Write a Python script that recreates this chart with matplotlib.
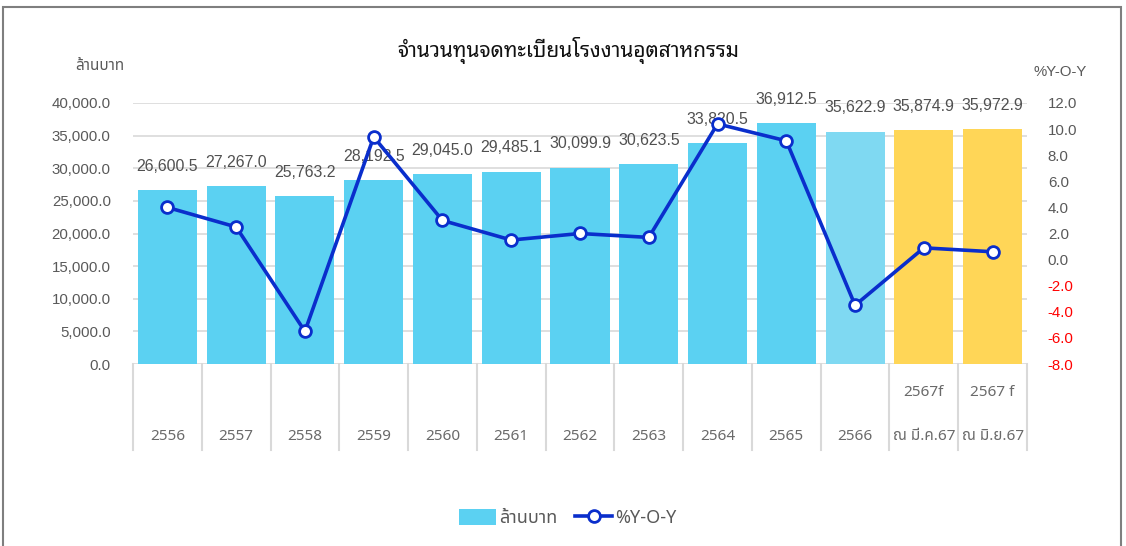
import numpy as np
import matplotlib
matplotlib.use('Agg')
import matplotlib.pyplot as plt
from matplotlib.ticker import FuncFormatter
from matplotlib.lines import Line2D
from matplotlib.patches import Patch, Rectangle

# data
years_top = ['', '', '', '', '', '', '', '', '', '', '', '2567f', '2567 f']
years_bottom = ['2556', '2557', '2558', '2559', '2560', '2561', '2562', '2563',
                '2564', '2565', '2566', 'ณ มี.ค.67', 'ณ มิ.ย.67']
capital = [26600.5, 27267.0, 25763.2, 28192.5, 29045.0, 29485.1, 30099.9,
           30623.5, 33820.5, 36912.5, 35622.9, 35874.9, 35972.9]
yoy = [4.0, 2.5, -5.5, 9.4, 3.0, 1.5, 2.0, 1.7, 10.4, 9.1, -3.5, 0.9, 0.6]

bar_colors = ['#5BD1F2'] * 10 + ['#7FD9F2', '#FFD657', '#FFD657']
line_color = '#0A2ECC'
grey = '#595959'
num_font = ['Liberation Sans', 'DejaVu Sans']
thai_font = ['Noto Sans Thai', 'Noto Sans', 'DejaVu Sans']
thai_loop = ['Noto Sans Thai Looped', 'Noto Sans', 'DejaVu Sans']

W, H = 1126, 546
fig = plt.figure(figsize=(W / 100, H / 100), dpi=100)
fig.patch.set_facecolor('white')

# outer frame
fig.add_artist(Rectangle((3 / W, -0.05), (1121 - 3) / W, 1 - 7 / H + 0.05,
                         transform=fig.transFigure, fill=False,
                         edgecolor='#7F7F7F', lw=1.5))

ax = fig.add_axes([133 / W, 1 - 364 / H, (1027 - 133) / W, (364 - 103) / H])
x = np.arange(len(capital))
ax.bar(x, capital, width=0.86, color=bar_colors, zorder=2)
ax.set_xlim(-0.5, len(capital) - 0.5)
ax.set_ylim(0, 40000)
ax.set_yticks(np.arange(0, 40001, 5000))
ax.yaxis.set_major_formatter(FuncFormatter(lambda v, p: f'{v:,.1f}'))
ax.grid(axis='y', color='#D9D9D9', lw=1.2, zorder=0)
ax.set_axisbelow(True)
ax.set_xticks([])
ax.tick_params(axis='y', length=0, pad=16, labelsize=10.8, labelcolor=grey)
for lab in ax.get_yticklabels():
    lab.set_family(num_font)
for s in ax.spines.values():
    s.set_visible(False)

for xi, v in zip(x, capital):
    ax.annotate(f'{v:,.1f}', (xi, v), xytext=(0, 17), textcoords='offset points',
                ha='center', va='center', fontsize=11.4, color='#505050',
                family=num_font, zorder=3)

# category table below the plot
xt = ax.get_xaxis_transform()
for b in np.arange(-0.5, len(capital), 1.0):
    ax.add_line(Line2D([b, b], [0, -86 / 261], transform=xt, color='#D9D9D9',
                       lw=1.5, clip_on=False))
for xi, t, b in zip(x, years_top, years_bottom):
    ax.text(xi, -73 / 261, b, transform=xt, ha='center', va='center',
            fontsize=11, color='#6A6A6A', family=thai_font)
    if t:
        ax.text(xi, -29 / 261, t, transform=xt, ha='center', va='center',
                fontsize=11, color='#6A6A6A', family=thai_font)

# right axis: %Y-O-Y
ax2 = ax.twinx()
ax2.plot(x, yoy, color=line_color, lw=2.6, marker='o', ms=8.5, mfc='white',
         mec=line_color, mew=2, zorder=4)
ax2.set_ylim(-8, 12)
ax2.set_yticks(np.arange(-8, 12.1, 2))
ax2.yaxis.set_major_formatter(FuncFormatter(lambda v, p: f'{v:.1f}'))
ax2.tick_params(axis='y', length=0, pad=15, labelsize=10.8, labelcolor=grey)
for lab, v in zip(ax2.get_yticklabels(), ax2.get_yticks()):
    lab.set_family(num_font)
    if v < 0:
        lab.set_color('#FF0000')
for s in ax2.spines.values():
    s.set_visible(False)

# titles and unit labels
fig.text(568 / W, 1 - 50 / H, 'จำนวนทุนจดทะเบียนโรงงานอุตสาหกรรม', ha='center',
         va='center', fontsize=15, fontweight='bold', color='#111111',
         family=thai_loop)
fig.text(100 / W, 1 - 66 / H, 'ล้านบาท', ha='center', va='center',
         fontsize=11, color=grey, family=thai_font)
fig.text(1060 / W, 1 - 72 / H, '%Y-O-Y', ha='center', va='center',
         fontsize=10.8, color=grey, family=num_font)

# legend
handles = [Patch(facecolor='#5BD1F2', edgecolor='none', label='ล้านบาท'),
           Line2D([], [], color=line_color, lw=2.6, marker='o', ms=8.5,
                  mfc='white', mec=line_color, mew=2, label='%Y-O-Y')]
leg = fig.legend(handles=handles, loc='center', bbox_to_anchor=(568 / W, 1 - 518 / H),
                 ncol=2, frameon=False, handlelength=2.0, handleheight=1.0,
                 columnspacing=1.0, handletextpad=0.2,
                 prop={'family': thai_font, 'size': 13})
for t in leg.get_texts():
    t.set_color(grey)

fig.savefig('out.png', dpi=100)
